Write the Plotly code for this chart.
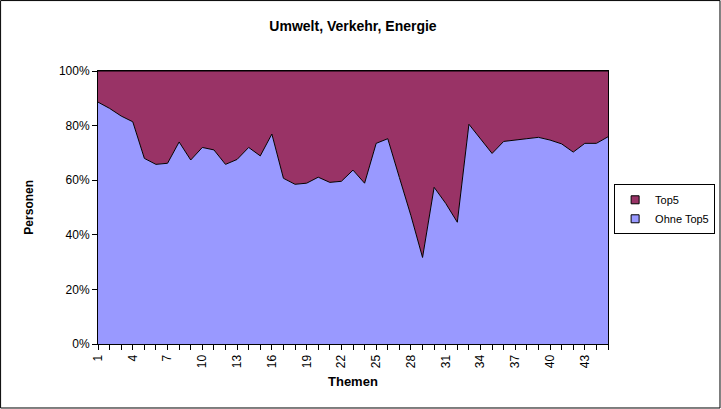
import plotly.graph_objects as go

# Themen 1..45
themen = list(range(1, 46))

# share of persons in percent
ohne_top5 = [88.6, 86.3, 83.5, 81.4, 68.0, 65.8, 66.2, 74.0, 67.4, 72.0,
             71.1, 65.8, 67.6, 72.0, 68.9, 76.9, 60.7, 58.5, 58.9, 61.1,
             59.2, 59.6, 63.7, 58.9, 73.5, 75.2, 61.0, 47.0, 31.7, 57.4,
             51.5, 44.6, 80.5, 75.3, 69.8, 74.2, 74.6, 75.2, 75.7, 74.7,
             73.3, 70.3, 73.5, 73.5, 75.9]
top5 = [11.4, 13.7, 16.5, 18.6, 32.0, 34.2, 33.8, 26.0, 32.6, 28.0,
        28.9, 34.2, 32.4, 28.0, 31.1, 23.1, 39.3, 41.5, 41.1, 38.9,
        40.8, 40.4, 36.3, 41.1, 26.5, 24.8, 39.0, 53.0, 68.3, 42.6,
        48.5, 55.4, 19.5, 24.7, 30.2, 25.8, 25.4, 24.8, 24.3, 25.3,
        26.7, 29.7, 26.5, 26.5, 24.1]

series = ["Ohne Top5", "Top5"]
colors = ["#9999FF", "#993366"]

tick_labels = [str(t) if (t - 1) % 3 == 0 else "" for t in themen]

fnt = "Liberation Sans, Arial, sans-serif"

fig = go.Figure()
for name, vals, col in zip(series, [ohne_top5, top5], colors):
    fig.add_trace(go.Scatter(x=themen, y=vals, name=name, mode="lines",
                             stackgroup="one", groupnorm="percent",
                             fillcolor=col, line=dict(color="black", width=1),
                             showlegend=False))
    # small square swatch for the legend, like excel
    fig.add_trace(go.Scatter(x=[None], y=[None], name=name, mode="markers",
                             marker=dict(symbol="square", size=8, color=col,
                                         line=dict(color="black", width=1))))

fig.update_layout(
    width=721, height=409,
    paper_bgcolor="white", plot_bgcolor="white",
    margin=dict(l=98, r=113, t=71, b=65, autoexpand=False),
    font=dict(family=fnt, size=12, color="black"),
    title=dict(text="<b>Umwelt, Verkehr, Energie</b>", x=0.5, xref="paper",
               y=0.935, yanchor="middle", font=dict(size=14)),
    showlegend=True,
    legend=dict(x=1.012, y=0.585, xanchor="left", yanchor="top",
                traceorder="reversed", bordercolor="black", borderwidth=1,
                bgcolor="white", font=dict(size=11), itemwidth=30,
                tracegroupgap=0),
    hovermode=False,
)

fig.update_xaxes(range=[1, 45], tickmode="array", tickvals=themen,
                 ticktext=tick_labels, tickangle=-90, ticks="outside",
                 ticklen=5, tickcolor="black", showline=True, linecolor="black",
                 linewidth=1, mirror=True, showgrid=False, zeroline=False,
                 tickfont=dict(size=12))
fig.update_yaxes(range=[0, 100], dtick=20, ticksuffix="%", ticks="outside",
                 ticklen=5, tickcolor="black", showline=True, linecolor="black",
                 linewidth=1, mirror=True, showgrid=False, zeroline=False,
                 tickfont=dict(size=12))

fig.add_annotation(text="<b>Personen</b>", xref="paper", yref="paper",
                   x=-0.137, y=0.5, xanchor="center", yanchor="middle",
                   textangle=-90, showarrow=False, font=dict(size=12))
fig.add_annotation(text="<b>Themen</b>", xref="paper", yref="paper",
                   x=0.5, y=-0.139, xanchor="center", yanchor="middle",
                   showarrow=False, font=dict(size=13))

# outer chart border
fig.add_shape(type="rect", xref="paper", yref="paper",
              x0=-0.191, x1=1.2196, y0=-0.2344, y1=1.258,
              line=dict(color="black", width=1))

# page body has a default margin, drop it so the chart fills the window
fig.write_html("out.html", config={"displayModeBar": False},
               post_script="document.body.style.margin='0';")
